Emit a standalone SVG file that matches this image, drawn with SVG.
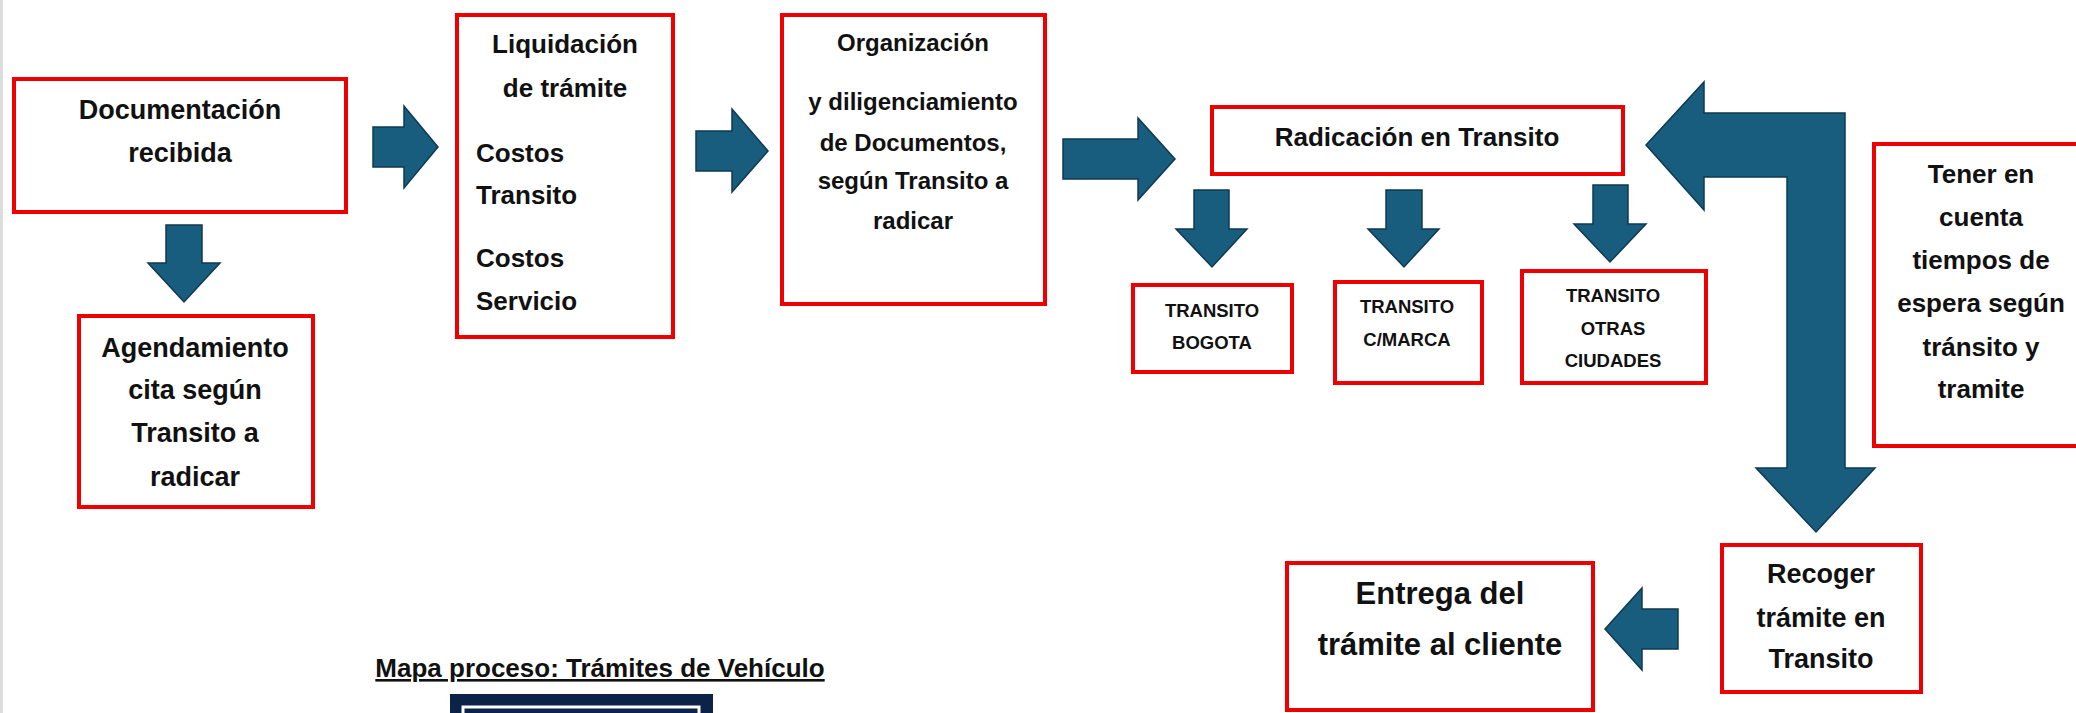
<svg xmlns="http://www.w3.org/2000/svg" width="2076" height="713" viewBox="0 0 2076 713">
<style>
.box{fill:#fff;stroke:#EE0000;stroke-width:4}
.arr{fill:#185C7E;stroke:#0E3A52;stroke-width:1.5;stroke-linejoin:miter}
text{font-family:"Liberation Sans",Arial,sans-serif;font-weight:bold;fill:#111}
.c{text-anchor:middle}
.f27{font-size:27px}
.f26{font-size:26px}
.f24{font-size:24px}
.f18{font-size:18.5px}
.f31{font-size:31px}
</style>
<rect x="0" y="0" width="2076" height="713" fill="#fff"/>
<rect x="0" y="0" width="3" height="713" fill="#DCDCDC"/>

<g id="connectors">
<path class="arr" d="M166,225 H202 V263 H220 L184,302 L148,263 H166 Z"/>
<path class="arr" d="M373,127 H404 V106 L438,147 L404,188 V167 H373 Z"/>
<path class="arr" d="M696,131 H732 V109 L768,151 L732,192 V171 H696 Z"/>
<path class="arr" d="M1063,139 H1138 V118 L1175,159 L1138,200 V179 H1063 Z"/>
<path class="arr" d="M1194,190 H1229 V229 H1247 L1212,267 L1176,229 H1194 Z"/>
<path class="arr" d="M1386,190 H1422 V229 H1439 L1404,267 L1368,229 H1386 Z"/>
<path class="arr" d="M1593,185 H1628 V224 H1646 L1610,262 L1574,224 H1593 Z"/>
<path class="arr" d="M1646,145 L1704,82 V113 H1845 V468 H1875 L1816,532 L1756,468 H1787 V177 H1704 V210 Z"/>
<path class="arr" d="M1678,609 V649 H1642 V670 L1605,629 L1642,588 V609 Z"/>
</g>

<g id="n-documentacion">
<rect class="box" x="14" y="79" width="332" height="133"/>
<text class="c f27" x="180" y="119">Documentación</text>
<text class="c f27" x="180" y="162">recibida</text>
</g>

<g id="n-agendamiento">
<rect class="box" x="79" y="316" width="234" height="191"/>
<text class="c f27" x="195" y="357">Agendamiento</text>
<text class="c f27" x="195" y="399">cita según</text>
<text class="c f27" x="195" y="442">Transito a</text>
<text class="c f27" x="195" y="486">radicar</text>
</g>

<g id="n-liquidacion">
<rect class="box" x="457" y="15" width="216" height="322"/>
<text class="c f26" x="565" y="53">Liquidación</text>
<text class="c f26" x="565" y="97">de trámite</text>
<text class="f26" x="476" y="162">Costos</text>
<text class="f26" x="476" y="204">Transito</text>
<text class="f26" x="476" y="267">Costos</text>
<text class="f26" x="476" y="310">Servicio</text>
</g>

<g id="n-organizacion">
<rect class="box" x="782" y="15" width="263" height="289"/>
<text class="c f24" x="913" y="51">Organización</text>
<text class="c f24" x="913" y="110">y diligenciamiento</text>
<text class="c f24" x="913" y="151">de Documentos,</text>
<text class="c f24" x="913" y="189">según Transito a</text>
<text class="c f24" x="913" y="229">radicar</text>
</g>

<g id="n-radicacion">
<rect class="box" x="1212" y="107" width="411" height="67"/>
<text class="c f26" x="1417" y="146">Radicación en Transito</text>
</g>

<g id="n-bogota">
<rect class="box" x="1133" y="285" width="159" height="87"/>
<text class="c f18" x="1212" y="317">TRANSITO</text>
<text class="c f18" x="1212" y="349">BOGOTA</text>
</g>

<g id="n-cmarca">
<rect class="box" x="1335" y="282" width="147" height="101"/>
<text class="c f18" x="1407" y="313">TRANSITO</text>
<text class="c f18" x="1407" y="346">C/MARCA</text>
</g>

<g id="n-otras">
<rect class="box" x="1522" y="271" width="184" height="112"/>
<text class="c f18" x="1613" y="302">TRANSITO</text>
<text class="c f18" x="1613" y="335">OTRAS</text>
<text class="c f18" x="1613" y="367">CIUDADES</text>
</g>

<g id="n-tener">
<rect class="box" x="1874" y="144" width="220" height="302"/>
<text class="c f26" x="1981" y="183">Tener en</text>
<text class="c f26" x="1981" y="226">cuenta</text>
<text class="c f26" x="1981" y="269">tiempos de</text>
<text class="c f26" x="1981" y="312">espera según</text>
<text class="c f26" x="1981" y="356">tránsito y</text>
<text class="c f26" x="1981" y="398">tramite</text>
</g>

<g id="n-recoger">
<rect class="box" x="1722" y="545" width="199" height="147"/>
<text class="c f27" x="1821" y="583">Recoger</text>
<text class="c f27" x="1821" y="627">trámite en</text>
<text class="c f27" x="1821" y="668">Transito</text>
</g>

<g id="n-entrega">
<rect class="box" x="1287" y="563" width="306" height="147"/>
<text class="c f31" x="1440" y="604">Entrega del</text>
<text class="c f31" x="1440" y="655">trámite al cliente</text>
</g>

<g id="title">
<text class="c" x="600" y="677" font-size="26" text-decoration="underline">Mapa proceso: Trámites de Vehículo</text>
<rect x="450" y="694" width="263" height="22" fill="#0B2347"/>
<rect x="463" y="707" width="236" height="12" fill="#0B2347" stroke="#fff" stroke-width="3"/>
</g>
</svg>
